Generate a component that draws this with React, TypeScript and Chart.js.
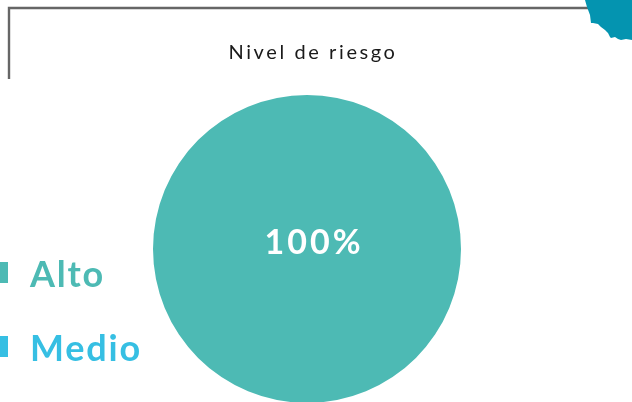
import React, { useEffect, useRef } from "react";
import { Chart, registerables } from "chart.js";

Chart.register(...registerables);

const TITLE = "Nivel de riesgo";
const CATEGORIES = ["Alto", "Medio"];
const VALUES = [100, 0];
const COLORS = ["#4DBAB4", "#36BFE3"];

const overlayPlugin = {
  id: "overlayPlugin",
  afterDraw(chart: any) {
    const ctx = chart.ctx as CanvasRenderingContext2D;
    const ds = chart.data.datasets[0];
    const data = ds.data as number[];
    const total = data.reduce((a: number, b: number) => a + b, 0);
    const meta = chart.getDatasetMeta(0);

    // title
    ctx.save();
    ctx.fillStyle = "#1a1a1a";
    ctx.font = "400 20px Lato";
    (ctx as any).letterSpacing = "2.6px";
    ctx.textAlign = "center";
    ctx.textBaseline = "alphabetic";
    ctx.fillText(TITLE, 313, 59);
    ctx.restore();

    // percentage labels
    meta.data.forEach((arc: any, i: number) => {
      const v = data[i];
      if (!v) return;
      const pct = Math.round((v / total) * 100) + "%";
      let x: number, y: number;
      if (v === total) {
        x = arc.x + 7;
        y = arc.y - 6;
      } else {
        const p = arc.tooltipPosition();
        x = p.x;
        y = p.y;
      }
      ctx.save();
      ctx.fillStyle = "#ffffff";
      ctx.font = "700 34px Lato";
      (ctx as any).letterSpacing = "3px";
      ctx.textAlign = "center";
      ctx.textBaseline = "middle";
      ctx.fillText(pct, x, y);
      ctx.restore();
    });

    // legend
    const labels = chart.data.labels as string[];
    labels.forEach((lab: string, i: number) => {
      const baseline = 287 + i * 74;
      const color = (ds.backgroundColor as string[])[i];
      ctx.save();
      ctx.fillStyle = color;
      ctx.fillRect(-14, baseline - 25, 22, 21);
      ctx.font = "700 36px Lato";
      (ctx as any).letterSpacing = "1.8px";
      ctx.textAlign = "left";
      ctx.textBaseline = "alphabetic";
      ctx.fillText(lab, 30, baseline);
      ctx.restore();
    });
  },
};

export default function App() {
  const ref = useRef<HTMLCanvasElement | null>(null);

  useEffect(() => {
    if (!ref.current) return;
    const chart = new Chart(ref.current, {
      type: "pie",
      data: {
        labels: CATEGORIES,
        datasets: [
          {
            data: VALUES,
            backgroundColor: COLORS,
            borderWidth: 0,
          },
        ],
      },
      options: {
        responsive: false,
        animation: false,
        devicePixelRatio: 1,
        layout: {
          padding: { left: 153, right: 171, top: 95, bottom: 17 },
        },
        plugins: {
          legend: { display: false },
          title: { display: false },
          tooltip: { enabled: false },
        },
      },
      plugins: [overlayPlugin],
    });
    return () => chart.destroy();
  }, []);

  return (
    <div
      style={{
        position: "fixed",
        left: 0,
        top: 0,
        width: 632,
        height: 402,
        overflow: "hidden",
        background: "#ffffff",
      }}
    >
      <canvas
        ref={ref}
        width={632}
        height={420}
        style={{ position: "absolute", left: 0, top: 0, width: 632, height: 420 }}
      />
      <svg
        width={632}
        height={402}
        style={{ position: "absolute", left: 0, top: 0, pointerEvents: "none" }}
      >
        <path d="M9 79 L9 8 L632 8" fill="none" stroke="#666666" strokeWidth={2.4} />
        <path
          d="M585 0 L587 7 L590 15 L591 23 L593 23 L598 24 L601 27 L605 30 L608 33 L610 37 L611 38 L615 37 L618 39 L621 40 L626 39 L632 40 L632 0 Z"
          fill="#0494B0"
        />
      </svg>
    </div>
  );
}
